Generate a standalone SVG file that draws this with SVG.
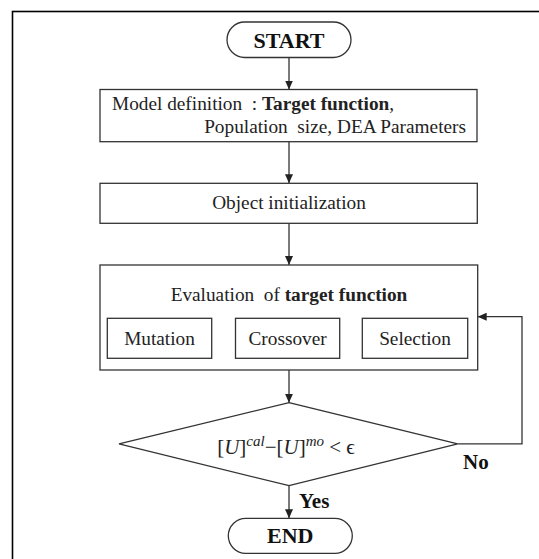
<svg xmlns="http://www.w3.org/2000/svg" width="539" height="559" viewBox="0 0 539 559">
<defs>
<marker id="ah" markerWidth="10" markerHeight="8" refX="9" refY="4" orient="auto" markerUnits="userSpaceOnUse">
<path d="M0,0 L9,4 L0,8 Z" fill="#222"/>
</marker>
<style>
.box{fill:#fff;stroke:#333;stroke-width:1.3}
.ln{fill:none;stroke:#333;stroke-width:1.3}
.t{font-family:"Liberation Serif","Times New Roman",serif;font-size:19.3px;fill:#222;white-space:pre}
.b{font-weight:bold}
.term{font-family:"Liberation Serif","Times New Roman",serif;font-size:22px;font-weight:bold;fill:#111;text-anchor:middle}
.lbl{font-family:"Liberation Serif","Times New Roman",serif;font-size:21px;font-weight:bold;fill:#111}
.m{font-family:"Liberation Serif","DejaVu Serif",serif;font-size:21px;fill:#222;white-space:pre}
.sup{font-size:15px;font-style:italic}
</style>
</defs>
<rect x="12.5" y="11.5" width="600" height="600" fill="#fff" stroke="#000" stroke-width="1.6"/>

<g id="connectors">
<line class="ln" x1="289" y1="57.5" x2="289" y2="89.5" marker-end="url(#ah)"/>
<line class="ln" x1="289" y1="141.7" x2="289" y2="183.3" marker-end="url(#ah)"/>
<line class="ln" x1="289" y1="223.3" x2="289" y2="265" marker-end="url(#ah)"/>
<line class="ln" x1="211.7" y1="338.3" x2="235.5" y2="338.3" marker-end="url(#ah)"/>
<line class="ln" x1="339.7" y1="338.3" x2="362.3" y2="338.3" marker-end="url(#ah)"/>
<line class="ln" x1="289" y1="370" x2="289" y2="402.7" marker-end="url(#ah)"/>
<polyline class="ln" points="457.7,443.8 522,443.8 522,316.7 477.7,316.7" marker-end="url(#ah)"/>
<line class="ln" x1="289" y1="485.7" x2="289" y2="518.3" marker-end="url(#ah)"/>
</g>

<g id="start">
<rect class="box" x="227" y="22" width="124" height="35.5" rx="17.7"/>
<text class="term" x="289" y="47.5">START</text>
</g>

<g id="model">
<rect class="box" x="100" y="89.5" width="377" height="52.2"/>
<text class="t" x="112" y="110" xml:space="preserve">Model definition  : <tspan class="b">Target function</tspan>,</text>
<text class="t" x="466" y="133.3" text-anchor="end" xml:space="preserve">Population  size, DEA Parameters</text>
</g>

<g id="init">
<rect class="box" x="100" y="183.3" width="377.3" height="40"/>
<text class="t" x="289" y="208.5" text-anchor="middle">Object initialization</text>
</g>

<g id="evaluation">
<rect class="box" x="100" y="265" width="377.7" height="105"/>
<text class="t" x="289" y="300.7" text-anchor="middle" xml:space="preserve">Evaluation  of <tspan class="b">target function</tspan></text>
</g>

<g id="mutation">
<rect class="box" x="107.3" y="318.3" width="104.4" height="40"/>
<text class="t" x="159.5" y="345" text-anchor="middle">Mutation</text>
</g>

<g id="crossover">
<rect class="box" x="235.5" y="318.3" width="104.2" height="40"/>
<text class="t" x="287.6" y="345" text-anchor="middle">Crossover</text>
</g>

<g id="selection">
<rect class="box" x="362.3" y="318.3" width="105.4" height="40"/>
<text class="t" x="415" y="345" text-anchor="middle">Selection</text>
</g>

<g id="decision">
<polygon class="box" points="289,402.7 457.7,443.8 289,485.7 119,443.8"/>
<text class="m" x="286" y="454.3" text-anchor="middle" xml:space="preserve">[<tspan font-style="italic">U</tspan>]<tspan class="sup" dy="-8">cal</tspan><tspan dy="8">−[</tspan><tspan font-style="italic">U</tspan>]<tspan class="sup" dy="-8">mo</tspan><tspan dy="8"> &lt; ϵ</tspan></text>
</g>

<g id="end">
<rect class="box" x="228.3" y="518.3" width="124" height="35" rx="17.5"/>
<text class="term" x="290.3" y="543.3">END</text>
</g>

<text class="lbl" x="463" y="469">No</text>
<text class="lbl" x="299" y="507.7">Yes</text>
</svg>
